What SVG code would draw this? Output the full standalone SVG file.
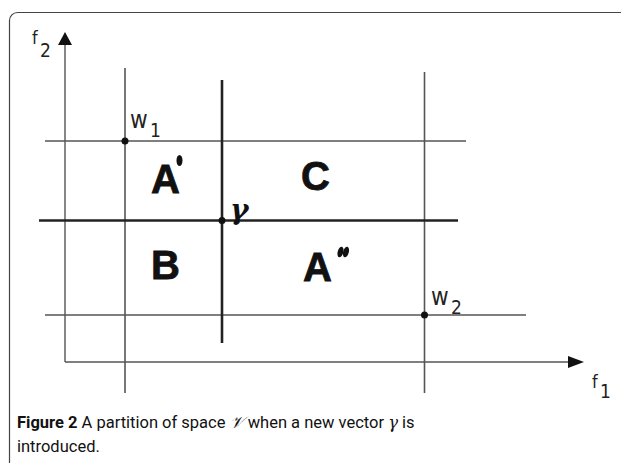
<svg xmlns="http://www.w3.org/2000/svg" width="621" height="463" viewBox="0 0 621 463">
<style>
.thin{stroke:#555;stroke-width:1.6;fill:none}
.thick{stroke:#222;stroke-width:2.6;fill:none}
.axis{stroke:#555;stroke-width:1.4;fill:none}
.lbl{font-family:"DejaVu Sans Condensed","DejaVu Sans",sans-serif;font-size:24px;fill:#222}
.sub{font-family:"DejaVu Sans Condensed","DejaVu Sans",sans-serif;font-size:19px;fill:#222}
.fl{font-family:"DejaVu Sans Condensed","DejaVu Sans",sans-serif;font-size:18px;fill:#222}
.reg{font-family:"Liberation Sans",Arial,sans-serif;font-weight:bold;font-size:40px;fill:#111;stroke:#111;stroke-width:0.8}
.cap{font-family:Roboto,"Noto Sans",sans-serif;font-size:16.5px;fill:#111}
</style>
<rect x="9.5" y="12.5" width="700" height="520" rx="8" fill="#fff" stroke="#444" stroke-width="1.2"/>
<g id="axes">
<line class="axis" x1="65" y1="44" x2="65" y2="362"/>
<line class="axis" x1="65" y1="362" x2="570" y2="362"/>
<polygon points="65,32 58,45 72,45" fill="#111"/>
<polygon points="584,362 568,356 568,368" fill="#111"/>
<text class="fl" x="32" y="44">f</text><text class="sub" x="40" y="57">2</text>
<text class="fl" x="592" y="388">f</text><text class="sub" x="600" y="398">1</text>
</g>
<g id="connectors">
<line class="thin" x1="125" y1="68" x2="125" y2="393"/>
<line class="thin" x1="424.5" y1="72" x2="424.5" y2="393"/>
<line class="thin" x1="45" y1="141" x2="466" y2="141"/>
<line class="thin" x1="45" y1="315" x2="526" y2="315"/>
<line class="thick" x1="222" y1="80" x2="222" y2="343"/>
<line class="thick" x1="39" y1="220.5" x2="458" y2="220.5"/>
</g>
<g id="w1">
<circle cx="125" cy="141" r="3.5" fill="#111"/>
<text class="lbl" x="130" y="128">w</text><text class="sub" x="150" y="137">1</text>
</g>
<g id="gamma">
<circle cx="222" cy="220.5" r="3.5" fill="#111"/>
<text x="230" y="219" font-family="DejaVu Serif,serif" font-style="italic" font-weight="bold" font-size="28" fill="#111">γ</text>
</g>
<g id="w2">
<circle cx="424.5" cy="315" r="3.5" fill="#111"/>
<text class="lbl" x="431" y="305">w</text><text class="sub" x="451" y="314">2</text>
</g>
<g id="regions">
<text class="reg" x="151" y="193">A</text>
<ellipse cx="179.5" cy="160.5" rx="3" ry="5.5" fill="#111"/>
<text class="reg" x="301" y="190">C</text>
<text class="reg" x="151" y="279">B</text>
<text class="reg" x="303" y="281">A</text>
<ellipse cx="340.5" cy="252" rx="2.8" ry="5.5" fill="#111" transform="rotate(15 340.5 252)"/>
<ellipse cx="346" cy="252" rx="2.8" ry="5.5" fill="#111" transform="rotate(15 346 252)"/>
</g>
<g id="caption">
<text class="cap" x="17" y="428"><tspan font-weight="bold">Figure 2</tspan> A partition of space <tspan font-family="DejaVu Serif,serif" font-style="italic">𝒱</tspan> when a new vector <tspan font-family="DejaVu Serif,serif" font-style="italic">γ</tspan> is</text>
<text class="cap" x="17" y="452">introduced.</text>
</g>
</svg>
